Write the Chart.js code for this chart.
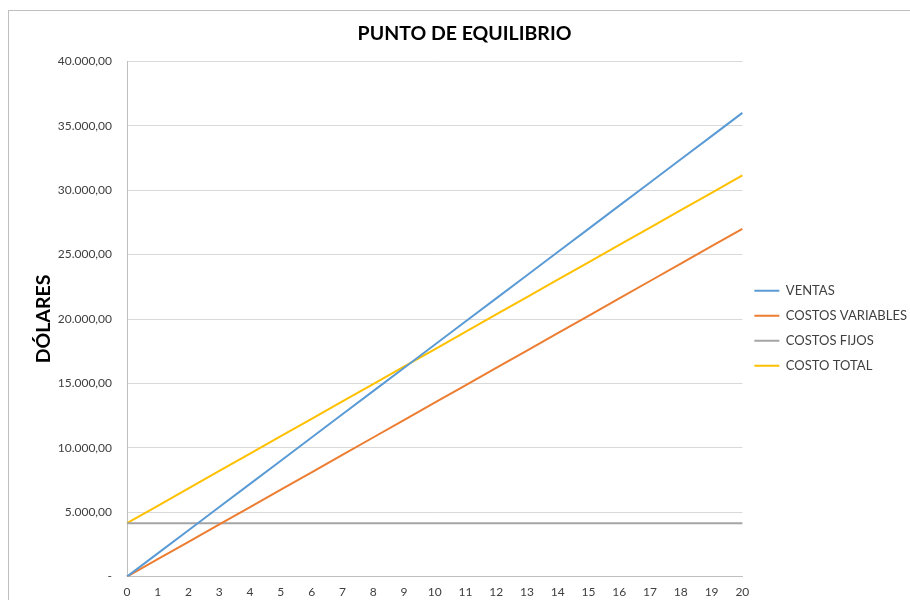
<!DOCTYPE html>
<html>
<head>
<meta charset="utf-8">
<script src="https://cdn.jsdelivr.net/npm/chart.js@4/dist/chart.umd.min.js"></script>
<style>
  body { margin: 0; background: #fff; }
  #wrap { position: relative; width: 910px; height: 600px; overflow: hidden; }
  #frame { position: absolute; left: 8px; top: 10px; right: 0; bottom: 0; border-top: 1px solid #bfbfbf; border-left: 1px solid #bfbfbf; }
  canvas { position: absolute; left: 0; top: 0; }
</style>
</head>
<body>
<div id="wrap">
  <div id="frame"></div>
  <canvas id="equilibrioChart" width="910" height="600"></canvas>
</div>
<script>
  const unidades = ['0','1','2','3','4','5','6','7','8','9','10','11','12','13','14','15','16','17','18','19','20'];
  const ventas = [0, 1800, 3600, 5400, 7200, 9000, 10800, 12600, 14400, 16200, 18000, 19800, 21600, 23400, 25200, 27000, 28800, 30600, 32400, 34200, 36000];
  const costosVariables = [0, 1350, 2700, 4050, 5400, 6750, 8100, 9450, 10800, 12150, 13500, 14850, 16200, 17550, 18900, 20250, 21600, 22950, 24300, 25650, 27000];
  const costosFijos = [4150, 4150, 4150, 4150, 4150, 4150, 4150, 4150, 4150, 4150, 4150, 4150, 4150, 4150, 4150, 4150, 4150, 4150, 4150, 4150, 4150];
  const costoTotal = [4150, 5500, 6850, 8200, 9550, 10900, 12250, 13600, 14950, 16300, 17650, 19000, 20350, 21700, 23050, 24400, 25750, 27100, 28450, 29800, 31150];

  // formato 5.000,00 ; el cero se muestra como "-"
  function formatoDolares(v) {
    if (v === 0) return '-';
    const entero = Math.round(v).toString().replace(/\B(?=(\d{3})+(?!\d))/g, '.');
    return entero + ',00';
  }

  const fuente = 'Lato, "Open Sans", sans-serif';

  function serie(label, data, color) {
    return {
      label: label,
      data: data,
      borderColor: color,
      backgroundColor: color,
      pointBorderColor: color,
      pointBackgroundColor: color,
      pointBorderWidth: 2
    };
  }

  const ctx = document.getElementById('equilibrioChart').getContext('2d');
  new Chart(ctx, {
    type: 'line',
    data: {
      labels: unidades,
      datasets: [
        serie('VENTAS', ventas, '#5B9BD5'),
        serie('COSTOS VARIABLES', costosVariables, '#ED7D31'),
        serie('COSTOS FIJOS', costosFijos, '#A5A5A5'),
        serie('COSTO TOTAL', costoTotal, '#FFC000')
      ]
    },
    options: {
      responsive: false,
      animation: false,
      elements: {
        line: { borderWidth: 2, tension: 0, fill: false },
        point: { radius: 0, hoverRadius: 0 }
      },
      layout: { padding: { left: 12, right: -7, top: 14, bottom: -7 } },
      plugins: {
        title: {
          display: true,
          text: 'PUNTO DE EQUILIBRIO',
          color: '#000',
          font: { family: fuente, size: 19.5, weight: 'bold' },
          padding: { top: 8, bottom: 16 }
        },
        legend: {
          position: 'right',
          title: { display: true, text: '', padding: { top: 0, bottom: 21 } },
          labels: {
            color: '#404040',
            font: { family: fuente, size: 13 },
            usePointStyle: true,
            pointStyle: 'line',
            pointStyleWidth: 25,
            boxHeight: 2,
            padding: 12
          }
        },
        tooltip: { enabled: false }
      },
      scales: {
        x: {
          grid: { display: false, drawTicks: false },
          border: { display: true, color: '#bfbfbf' },
          ticks: { color: '#404040', font: { family: fuente, size: 12 }, padding: 8, maxRotation: 0, autoSkip: false }
        },
        y: {
          min: 0,
          max: 40000,
          grid: { color: '#d9d9d9', drawTicks: false },
          border: { display: true, color: '#bfbfbf' },
          ticks: { stepSize: 5000, color: '#404040', font: { family: fuente, size: 12 }, padding: 15, callback: v => formatoDolares(v) },
          title: {
            display: true,
            text: 'DÓLARES',
            color: '#000',
            font: { family: fuente, size: 19.5, weight: 'bold' },
            padding: { top: 20, bottom: 0 }
          },
          afterFit: s => { s.width = 115; }
        }
      }
    }
  });
</script>
</body>
</html>
